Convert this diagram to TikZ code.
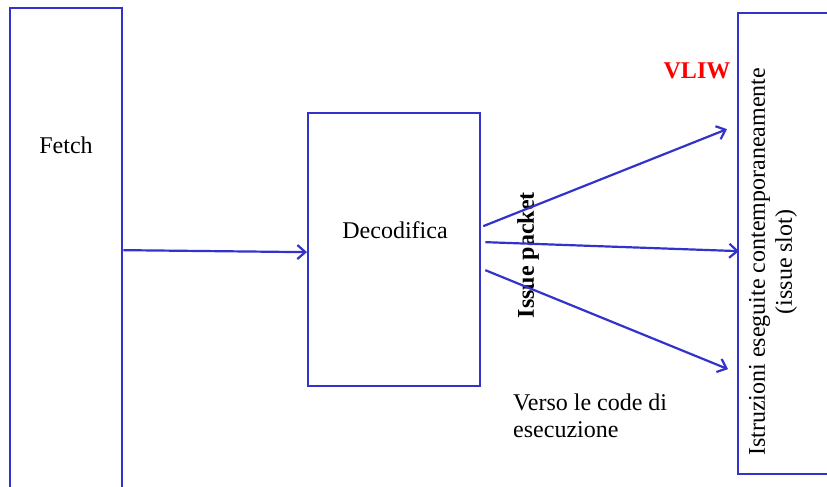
\documentclass[tikz,border=0pt]{standalone}
\usepackage{fontspec}
\setmainfont{Liberation Serif}
\usetikzlibrary{arrows.meta,calc}
\definecolor{lineblue}{RGB}{51,51,204}
\definecolor{vliwred}{RGB}{255,0,0}
\tikzset{
  box/.style={draw=lineblue, line width=2.3pt, rectangle, inner sep=0pt},
  lbl/.style={inner sep=0pt, font=\fontsize{24}{27}\selectfont},
  conn/.style={draw=lineblue, line width=2.2pt, -{Straight Barb[length=8pt,width=14pt,line width=2.2pt]}}
}
\begin{document}
\begin{tikzpicture}[x=1pt,y=-1pt]
\useasboundingbox (0,0) rectangle (827,487);
\clip (0,0) rectangle (827,487);
\fill[white] (0,0) rectangle (827,487);
% boxes
\node[box, anchor=north west, minimum width=112pt, minimum height=484pt] (fetch) at (9,7) {};
\node[box, anchor=north west, minimum width=172pt, minimum height=273pt] (dec) at (307,112) {};
\node[box, anchor=north west, minimum width=120pt, minimum height=461pt] (slot) at (737,12) {};
% labels
\node[lbl] (fetchlbl) at (66,145) {Fetch};
\node[lbl] (declbl) at (395,230) {Decodifica};
\node[lbl, text=vliwred, font=\fontsize{24}{27}\selectfont\bfseries] (vliw) at (697,71) {VLIW};
\node[lbl, rotate=90, font=\fontsize{24}{27}\selectfont\bfseries] (packet) at (528,255) {Issue packet};
\node[lbl, anchor=north west, align=left] (verso) at (513,393.6) {Verso le code di\\esecuzione};
\node[lbl, rotate=90, align=center] (slotlbl) at (773,262) {Istruzioni eseguite contemporaneamente\\(issue slot)};
% connector endpoints
\coordinate (s1) at ($(dec.east)+(2,-23.5)$);
\coordinate (s2) at ($(dec.east)+(4,-7.5)$);
\coordinate (s3) at ($(dec.east)+(4,20.5)$);
\coordinate (e1) at ($(slot.west)+(-10,-114.5)$);
\coordinate (e2) at ($(slot.west)+(2,7.5)$);
\coordinate (e3) at ($(slot.west)+(-9,125.5)$);
\coordinate (d0) at ($(dec.west)+(0,2.5)$);
% connectors
\draw[conn] (fetch.east) -- (d0);
\draw[conn] (s1) -- (e1);
\draw[conn] (s2) -- (e2);
\draw[conn] (s3) -- (e3);
\end{tikzpicture}
\end{document}
